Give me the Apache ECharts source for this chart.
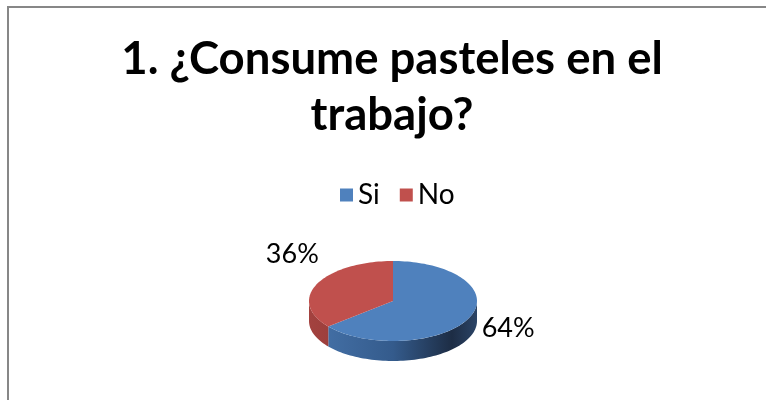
<!DOCTYPE html>
<html><head><meta charset="utf-8">
<script src="https://cdn.jsdelivr.net/npm/echarts@6/dist/echarts.min.js"></script>
<style>html,body{margin:0;padding:0;background:#fff}#c{width:766px;height:400px}</style>
</head><body><div id="c"></div>
<script>
const categories = ['Si', 'No'];
const values = [64, 36];
const titleText = '1. ¿Consume pasteles en el\ntrabajo?';

const total = values.reduce((a, b) => a + b, 0);
const starts = [];
let acc = 0;
values.forEach(v => { starts.push(acc); acc += v; });

const topColors = ['#4F81BD', '#C0504D'];
const sideStops = [
  [{offset: 0, color: '#4673aa'}, {offset: 0.5, color: '#345b8c'}, {offset: 0.85, color: '#1d2d45'}, {offset: 1, color: '#2b4466'}],
  [{offset: 0, color: '#a3423f'}, {offset: 1, color: '#6e2624'}]
];
const G = {cx: 393, cy: 301, rx: 84, ry: 40, depth: 20};

function pt(a, dy) {
  const r = a * Math.PI / 180;
  return [G.cx + G.rx * Math.sin(r), G.cy - G.ry * Math.cos(r) + (dy || 0)];
}
function arcPts(a0, a1, dy) {
  const n = Math.max(2, Math.ceil((a1 - a0) / 2));
  const out = [];
  for (let i = 0; i <= n; i++) out.push(pt(a0 + (a1 - a0) * i / n, dy));
  return out;
}
function makeRender(idx) {
  return function (params, api) {
    const v = api.value(0);
    const a0 = starts[idx] / total * 360;
    const a1 = (starts[idx] + v) / total * 360;
    const children = [];
    const lo = Math.max(a0, 90), hi = Math.min(a1, 270);
    if (lo < hi) {
      const pts = arcPts(lo, hi, 0).concat(arcPts(lo, hi, G.depth).reverse());
      children.push({
        type: 'polygon', shape: {points: pts},
        style: {fill: {type: 'linear', x: G.cx - G.rx, y: 0, x2: G.cx + G.rx, y2: 0, global: true, colorStops: sideStops[idx]}, stroke: null}
      });
    }
    children.push({
      type: 'polygon', shape: {points: [[G.cx, G.cy]].concat(arcPts(a0, a1, 0))},
      style: {fill: api.visual('color'), stroke: null}, z2: 5
    });
    const m = (a0 + a1) / 2 * Math.PI / 180;
    const s = Math.sin(m), c = Math.cos(m);
    const back = c > 0;
    const lx = G.cx + (G.rx + (back ? -2 : 14)) * s;
    const ly = G.cy - (G.ry + (back ? 38 : 12)) * c + (back ? 0 : 5);
    children.push({
      type: 'text', z2: 10,
      style: {
        x: lx, y: ly, text: Math.round(v / total * 100) + '%',
        fill: '#000', font: '27px Lato',
        align: s >= 0 ? 'left' : 'right', verticalAlign: back ? 'bottom' : 'middle'
      }
    });
    return {type: 'group', children: children};
  };
}

const chart = echarts.init(document.getElementById('c'), null, {renderer: 'canvas'});
chart.setOption({
  animation: false,
  backgroundColor: '#fff',
  graphic: [{
    type: 'rect', shape: {x: 8, y: 7, width: 800, height: 500},
    style: {fill: null, stroke: '#878787', lineWidth: 2}, silent: true
  }],
  title: {
    text: titleText, left: 392, top: 31, textAlign: 'center', padding: 0,
    textStyle: {fontFamily: 'Lato', fontWeight: 'bold', fontSize: 45.5, lineHeight: 56, color: '#000'}
  },
  legend: {
    data: categories, left: 335, top: 176, icon: 'rect', itemWidth: 13, itemHeight: 13, itemGap: 20,
    textStyle: {fontFamily: 'Lato', fontSize: 28, color: '#000'}
  },
  series: categories.map((name, i) => ({
    type: 'custom', name: name, coordinateSystem: 'none',
    itemStyle: {color: topColors[i]},
    data: [[values[i]]],
    renderItem: makeRender(i)
  }))
});
</script></body></html>
